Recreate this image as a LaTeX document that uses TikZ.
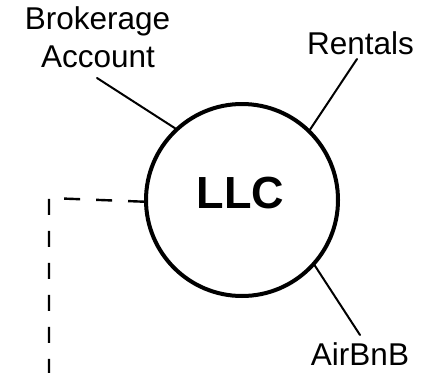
\documentclass[tikz,border=0pt]{standalone}
\usepackage{fontspec}
\setmainfont{Liberation Sans}
\begin{document}
\begin{tikzpicture}[x=1pt,y=-1pt,
  lbl/.style={inner sep=0pt, anchor=base, font=\fontsize{31.5}{38}\selectfont},
  conn/.style={line width=2pt, line cap=round},
  dashline/.style={line width=2.4pt, dash pattern=on 16pt off 16pt}]
\useasboundingbox (0,0) rectangle (433,372);
\node[circle, draw, line width=4pt, minimum size=192pt, inner sep=0pt] (llc) at (242,200) {};
\node[inner sep=0pt, font=\fontsize{45}{50}\bfseries\selectfont] (llct) at (240.5,193.5) {LLC};
\node[lbl] (brok) at (97.5,29) {Brokerage};
\node[lbl] (acct) at (98,67) {Account};
\node[lbl] (rent) at (360.5,54) {Rentals};
\node[lbl] (air) at (360,365) {AirBnB};
\coordinate (bk) at (97,78);
\coordinate (rt) at (357,59);
\coordinate (ab) at (360,335);
\coordinate (corner) at (49,198);
\coordinate (bottom) at (49,385);
\draw[conn] (bk) -- (llc.133);
\draw[conn] (rt) -- (llc.46.6);
\draw[conn] (ab) -- (llc.-42);
\draw[dashline] (llc.181) -- (corner) -- (bottom);
\end{tikzpicture}
\end{document}
